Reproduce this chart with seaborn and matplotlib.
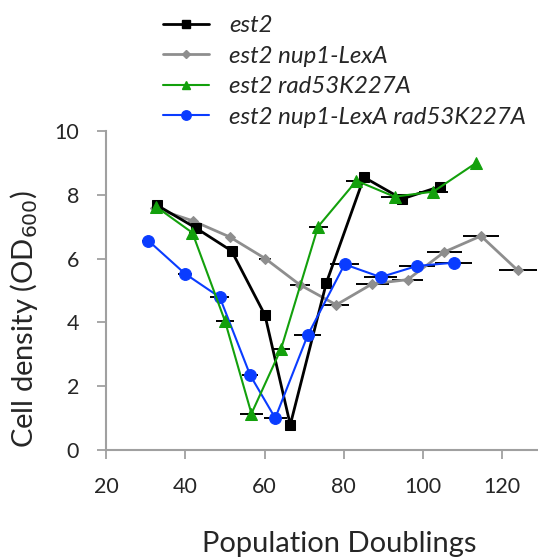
import numpy as np
import pandas as pd
import matplotlib
matplotlib.use("Agg")
import matplotlib.pyplot as plt
import seaborn as sns
from matplotlib.lines import Line2D

sns.set_style("white")
plt.rcParams['font.family'] = ['Lato', 'DejaVu Sans']

series_names = ["est2", "est2 nup1-LexA", "est2 rad53K227A", "est2 nup1-LexA rad53K227A"]

est2_x = [32.8, 42.8, 51.7, 60.1, 66.5, 75.6, 85.1, 94.7, 104.3]
est2_y = [7.68, 6.95, 6.24, 4.23, 0.79, 5.24, 8.55, 7.87, 8.26]
est2_xerr = [0.5, 0.5, 0.5, 0.5, 0.5, 0.5, 0.5, 0.5, 0.5]

nup1_x = [32.3, 42.0, 51.2, 60.2, 68.9, 78.1, 87.2, 96.1, 105.4, 114.6, 123.9]
nup1_y = [7.58, 7.18, 6.68, 6.00, 5.18, 4.55, 5.21, 5.34, 6.21, 6.71, 5.63]
nup1_xerr = [0.6, 0.8, 1.0, 1.5, 2.5, 3.3, 4.1, 3.9, 4.4, 4.6, 4.8]

rad53_x = [32.6, 41.8, 50.0, 56.7, 64.2, 73.5, 83.2, 92.8, 102.6, 113.4]
rad53_y = [7.63, 6.81, 4.05, 1.14, 3.18, 7.00, 8.44, 7.94, 8.10, 9.00]
rad53_xerr = [0.5, 0.8, 2.2, 2.9, 2.3, 2.4, 2.6, 3.4, 3.6, 0.5]

both_x = [30.7, 39.9, 48.7, 56.4, 62.7, 70.9, 80.2, 89.3, 98.5, 107.7]
both_y = [6.56, 5.53, 4.79, 2.34, 1.00, 3.60, 5.82, 5.42, 5.77, 5.87]
both_xerr = [1.5, 1.85, 2.4, 2.0, 2.9, 3.4, 3.7, 4.1, 4.5, 4.7]

xs = [est2_x, nup1_x, rad53_x, both_x]
ys = [est2_y, nup1_y, rad53_y, both_y]
xerrs = [est2_xerr, nup1_xerr, rad53_xerr, both_xerr]

colors = {"est2": "#000000", "est2 nup1-LexA": "#8e8e8e",
          "est2 rad53K227A": "#13a00c", "est2 nup1-LexA rad53K227A": "#0a3cff"}
markers = {"est2": "s", "est2 nup1-LexA": "D",
           "est2 rad53K227A": "^", "est2 nup1-LexA rad53K227A": "o"}
msizes = {"est2": 7.5, "est2 nup1-LexA": 5.5,
          "est2 rad53K227A": 8, "est2 nup1-LexA rad53K227A": 8.5}
lws = {"est2": 2.0, "est2 nup1-LexA": 2.0,
       "est2 rad53K227A": 1.5, "est2 nup1-LexA rad53K227A": 1.5}
zorders = {"est2": 4, "est2 nup1-LexA": 2,
           "est2 rad53K227A": 6, "est2 nup1-LexA rad53K227A": 5}

fig = plt.figure(figsize=(5.38, 5.59), dpi=100)
ax = fig.add_axes([106/538, 1-450/559, 1-106/538, (450-131)/559])

for name, x, y, xe in zip(series_names, xs, ys, xerrs):
    ax.errorbar(x, y, xerr=xe, fmt="none", ecolor="black", elinewidth=1.4,
                capsize=0, zorder=1)
    df = pd.DataFrame({"x": x, "y": y})
    sns.lineplot(data=df, x="x", y="y", ax=ax, sort=False, color=colors[name],
                 marker=markers[name], markersize=msizes[name],
                 markeredgecolor=colors[name], linewidth=lws[name],
                 zorder=zorders[name], legend=False)

ax.set_xlim(20, 129)
ax.set_ylim(0, 10)
ax.set_xticks([20, 40, 60, 80, 100, 120])
ax.set_yticks([0, 2, 4, 6, 8, 10])
for s in ["top", "right"]:
    ax.spines[s].set_visible(False)
for s in ["left", "bottom"]:
    ax.spines[s].set_color("#a0a0a0")
    ax.spines[s].set_linewidth(1.5)
ax.tick_params(axis="both", direction="out", length=6.5, width=1.3,
               color="#a0a0a0", labelsize=15.5, left=True, bottom=True)
ax.tick_params(axis="y", pad=13)
ax.tick_params(axis="x", pad=13)
ax.set_xlabel("Population Doublings", fontsize=21)
ax.set_ylabel("Cell density (OD$_{600}$)", fontsize=21)
ax.xaxis.set_label_coords(0.54, -0.255)
ax.yaxis.set_label_coords(-0.153, 0.41)

handles = [Line2D([0], [0], color=colors[n], marker=markers[n],
                  markersize=msizes[n] * 0.8, lw=lws[n]) for n in series_names]
leg = fig.legend(handles, series_names, loc="upper left",
                 bbox_to_anchor=(163/538, 1 - 15/559), frameon=False,
                 prop={"style": "italic", "size": 17.3}, handlelength=1.9,
                 handletextpad=0.85, labelspacing=0.4, borderaxespad=0,
                 borderpad=0)

fig.savefig("out.png", dpi=100)
